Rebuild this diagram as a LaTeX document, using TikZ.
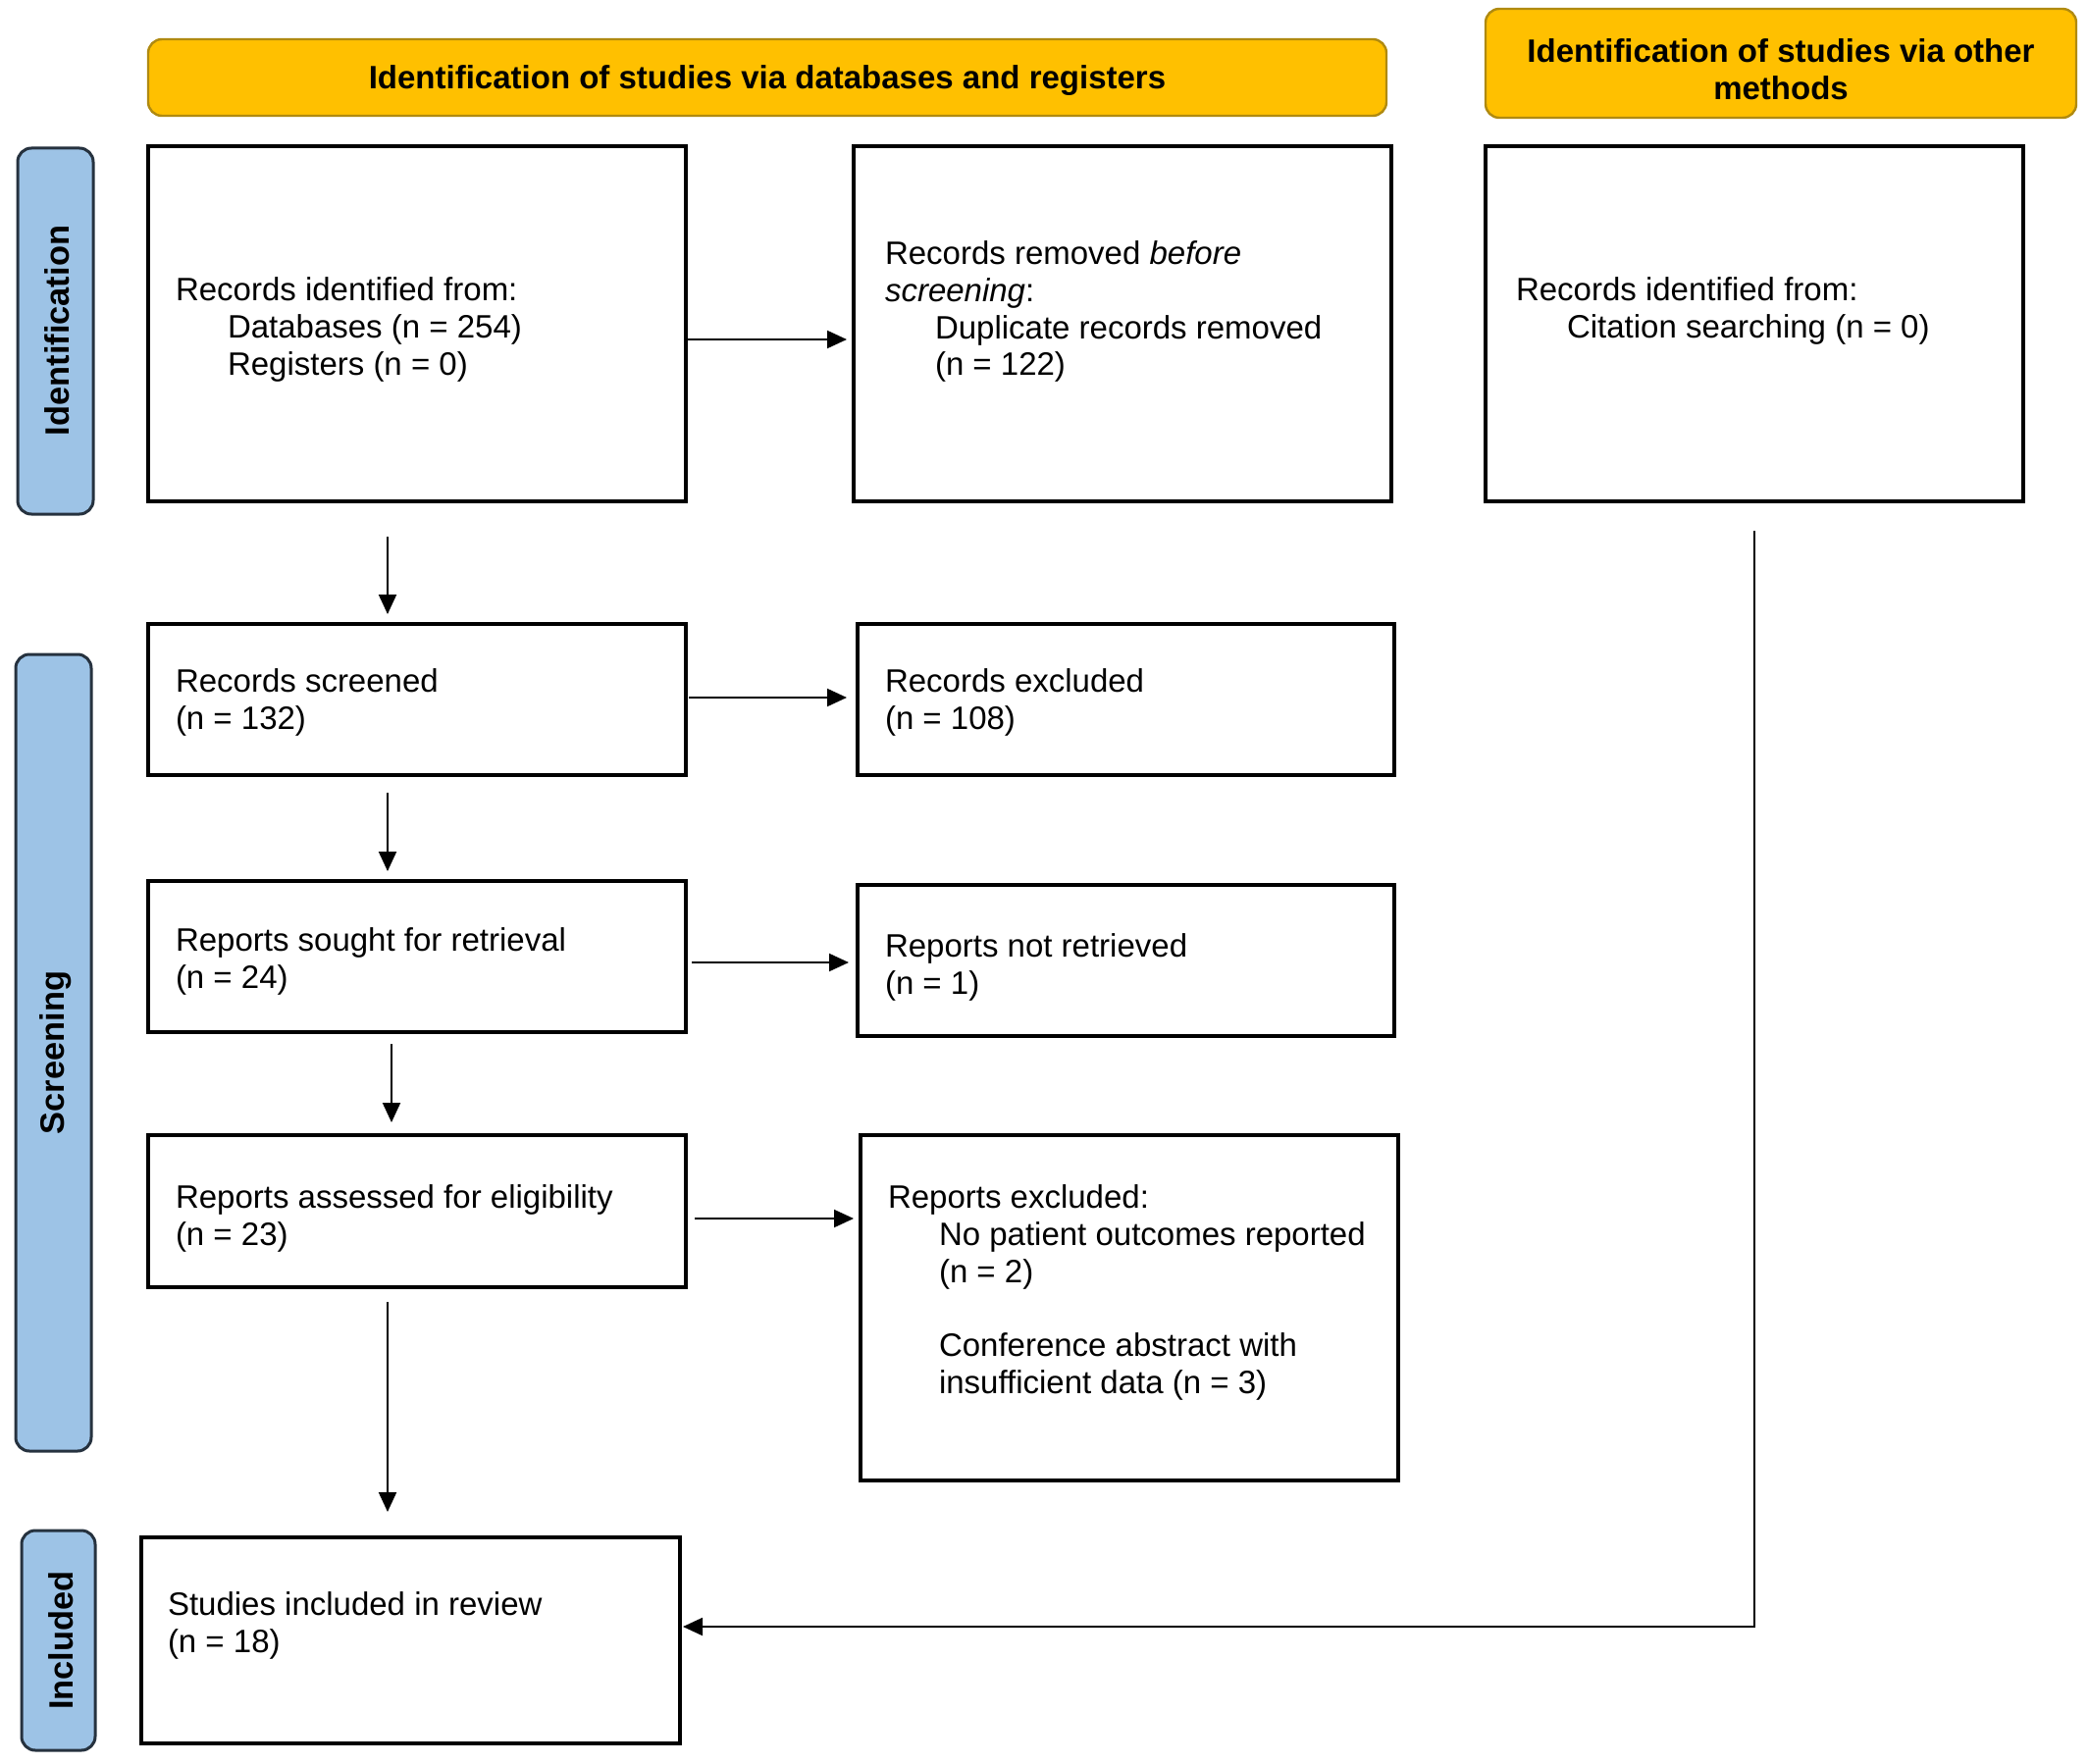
\documentclass[tikz,border=0pt]{standalone}
\usepackage{fontspec}
\setmainfont{Liberation Sans}
\usetikzlibrary{arrows.meta,fit}
\definecolor{gold}{HTML}{FFC000}
\definecolor{goldline}{HTML}{B08A10}
\definecolor{lblue}{HTML}{9DC3E6}
\definecolor{bline}{HTML}{26323F}
\begin{document}
\begin{tikzpicture}[x=0.5pt,y=-0.5pt,
  every node/.style={inner sep=0pt, outer sep=0pt},
  box/.style={draw=black, line width=1.6pt, fill=white},
  hdr/.style={draw=goldline, line width=1.2pt, fill=gold, rounded corners=7pt},
  side/.style={draw=bline, line width=1.5pt, fill=lblue, rounded corners=7pt},
  txt/.style={anchor=north west, align=left, font=\fontsize{16.5}{18.9}\selectfont},
  htxt/.style={align=center, font=\fontsize{16.5}{19}\selectfont\bfseries},
  stxt/.style={rotate=90, font=\fontsize{17.2}{20}\selectfont\bfseries},
  arr/.style={line width=1pt, -{Triangle[length=10pt,width=9pt]}},
]
\useasboundingbox (0,0) rectangle (2128,1797);
% headers
\node[hdr, fit={(151,40) (1413,118)}] (h1) {};
\node[hdr, fit={(1514,9) (2116,120)}] (h2) {};
\node[htxt] (ht1) at (782,82) {Identification of studies via databases and registers};
\node[htxt] (ht2) at (1815,71) {Identification of studies via other\\methods};
% side labels
\node[side, fit={(18,151) (95,524)}] (s1) {};
\node[side, fit={(16,667) (93,1479)}] (s2) {};
\node[side, fit={(22,1560) (97,1784)}] (s3) {};
\node[stxt] (st1) at (58,337) {Identification};
\node[stxt] (st2) at (57,1073) {Screening};
\node[stxt] (st3) at (62,1672) {Included};
% boxes
\node[box, fit={(151,149) (699,511)}] (b1) {};
\node[box, fit={(870,149) (1418,511)}] (b2) {};
\node[box, fit={(1514,149) (2062,511)}] (b3) {};
\node[box, fit={(151,636) (699,790)}] (b4) {};
\node[box, fit={(874,636) (1421,790)}] (b5) {};
\node[box, fit={(151,898) (699,1052)}] (b6) {};
\node[box, fit={(874,902) (1421,1056)}] (b7) {};
\node[box, fit={(151,1157) (699,1312)}] (b8) {};
\node[box, fit={(877,1157) (1425,1509)}] (b9) {};
\node[box, fit={(144,1567) (693,1777)}] (b10) {};
% texts
\node[txt] (t1) at (179,280) {\strut Records identified from:\\\hspace*{26.5pt}Databases (n = 254)\\\hspace*{26.5pt}Registers (n = 0)};
\node[txt] (t2) at (902,243) {\strut Records removed \textit{before}\\\textit{screening}:\\\hspace*{25.5pt}Duplicate records removed\\\hspace*{25.5pt}(n = 122)};
\node[txt] (t3) at (1545,280) {\strut Records identified from:\\\hspace*{26pt}Citation searching (n = 0)};
\node[txt] (t4) at (179,679) {\strut Records screened\\(n = 132)};
\node[txt] (t5) at (902,679) {\strut Records excluded\\(n = 108)};
\node[txt] (t6) at (179,943) {\strut Reports sought for retrieval\\(n = 24)};
\node[txt] (t7) at (902,949) {\strut Reports not retrieved\\(n = 1)};
\node[txt] (t8) at (179,1205) {\strut Reports assessed for eligibility\\(n = 23)};
\node[txt] (t9) at (905,1205) {\strut Reports excluded:\\\hspace*{26pt}No patient outcomes reported\\\hspace*{26pt}(n = 2)\\[18.9pt]\hspace*{26pt}Conference abstract with\\\hspace*{26pt}insufficient data (n = 3)};
\node[txt] (t10) at (171,1620) {\strut Studies included in review\\(n = 18)};
% arrows
\draw[arr] ([yshift=-8pt]b1.east) -- ([yshift=-8pt,xshift=-3.5pt]b2.west);
\draw[arr] ([xshift=-15pt,yshift=-18pt]b1.south) -- ([xshift=-15pt,yshift=5pt]b4.north);
\draw[arr] ([xshift=1.5pt,yshift=1pt]b4.east) -- ([xshift=-5.5pt,yshift=1pt]b5.west);
\draw[arr] ([xshift=-15pt,yshift=-9pt]b4.south) -- ([xshift=-15pt,yshift=5pt]b6.north);
\draw[arr] ([xshift=3pt,yshift=-3pt]b6.east) -- ([xshift=-4.5pt,yshift=-1pt]b7.west);
\draw[arr] ([xshift=-13pt,yshift=-6pt]b6.south) -- ([xshift=-13pt,yshift=6.5pt]b8.north);
\draw[arr] ([xshift=4.5pt,yshift=-3.75pt]b8.east) -- ([xshift=-3.5pt,yshift=45.5pt]b9.west);
\draw[arr] ([xshift=-15pt,yshift=-7.5pt]b8.south) -- ([xshift=-11.75pt,yshift=13pt]b10.north);
\draw[arr] ([yshift=-15pt]b3.south) |- ([xshift=1.5pt,yshift=7pt]b10.east);
\end{tikzpicture}
\end{document}
